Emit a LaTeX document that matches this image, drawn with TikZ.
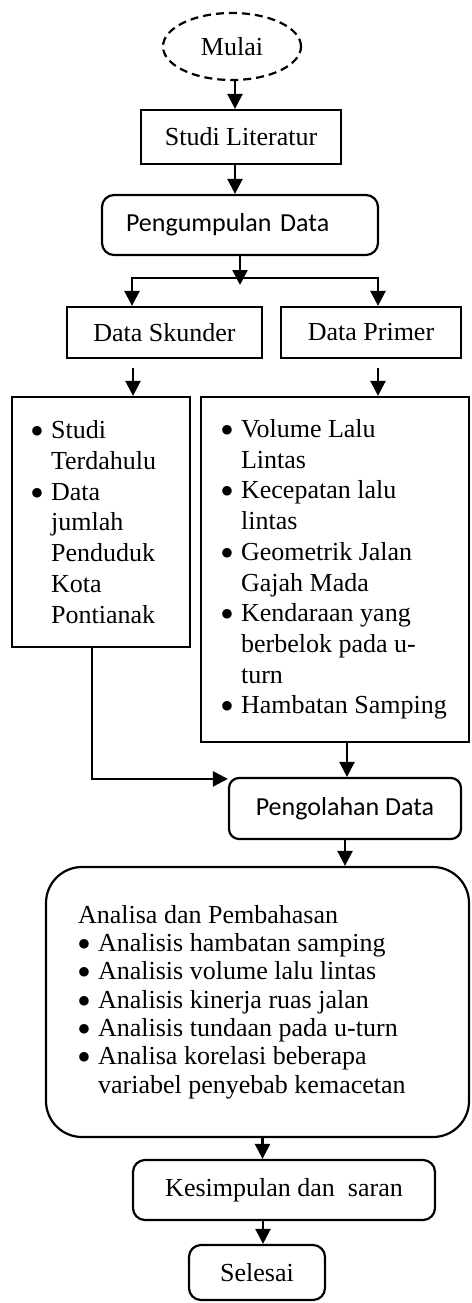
\documentclass[tikz,border=0pt]{standalone}
\usepackage{fontspec}
\setmainfont{Liberation Serif}
\newfontfamily\calibrifont{Carlito}
\newfontfamily\symfont{DejaVu Sans}
\usetikzlibrary{arrows.meta,shapes.geometric,calc}

% list helpers: bulleted line and continuation line
\newcommand\bul[1]{\makebox[20pt][l]{\hspace*{0.5pt}\raisebox{4pt}{\symfont\fontsize{12.5}{12.5}\selectfont ●}}#1}
\newcommand\ind[1]{\hspace*{20pt}#1}

\begin{document}
\begin{tikzpicture}[x=1pt,y=-1pt,
  every node/.style={font=\fontsize{26}{30.7}\selectfont, inner sep=0pt},
  sq/.style={draw, line width=2.2pt, rectangle},
  rnd/.style={draw, line width=2.2pt, rectangle, rounded corners=12pt},
  sans/.style={font=\calibrifont\fontsize{26}{30}\selectfont},
  arr/.style={line width=2.4pt, -{Triangle[length=15pt,width=15pt]}},
  ln/.style={line width=2.4pt},
  listtxt/.style={align=left, anchor=west},
]
\useasboundingbox (0,0) rectangle (471,1303);

% start
\node[draw, ellipse, line width=2.2pt, dash pattern=on 8pt off 5pt,
      minimum width=138pt, minimum height=67pt] (mulai) at (232,46.5) {Mulai};

\node[sq, minimum width=200pt, minimum height=54pt] (studi) at (241,137) {Studi Literatur};

\node[rnd, sans, minimum width=276pt, minimum height=60pt, align=left, text width=228pt]
  (kumpul) at (240,225) {Pengumpulan Data};

\node[sq, minimum width=195pt, minimum height=51pt] (skunder) at (164.5,332.5) {Data Skunder};
\node[sq, minimum width=180pt, minimum height=51pt] (primer) at (371,332.5) {Data Primer};

% secondary data list
\node[sq, minimum width=178pt, minimum height=250pt] (sec) at (101,522) {};
\node[listtxt] (sectxt) at ([xshift=20pt]sec.west)
  {\bul{Studi}\\\ind{Terdahulu}\\\bul{Data}\\\ind{jumlah}\\\ind{Penduduk}\\\ind{Kota}\\\ind{Pontianak}};

% primary data list
\node[sq, minimum width=268pt, minimum height=345pt] (pri) at (335,569.5) {};
\node[listtxt] (pritxt) at ([xshift=21pt]pri.west)
  {\bul{Volume Lalu}\\\ind{Lintas}\\\bul{Kecepatan lalu}\\\ind{lintas}\\
   \bul{Geometrik Jalan}\\\ind{Gajah Mada}\\\bul{Kendaraan yang}\\\ind{berbelok pada u-}\\
   \ind{turn}\\\bul{Hambatan Samping}};

\node[rnd, sans, rounded corners=10pt, minimum width=232pt, minimum height=61pt]
  (olah) at (345,808.5) {Pengolahan Data};

% analysis block
\node[rnd, rounded corners=36pt, minimum width=423pt, minimum height=270pt] (analisa) at (257.5,1002) {};
\node[listtxt, font=\fontsize{26}{28.3}\selectfont] (antxt) at ([xshift=33pt]analisa.west)
  {Analisa dan Pembahasan\\\bul{Analisis hambatan samping}\\\bul{Analisis volume lalu lintas}\\
   \bul{Analisis kinerja ruas jalan}\\\bul{Analisis tundaan pada u-turn}\\
   \bul{Analisa korelasi beberapa}\\\ind{variabel penyebab kemacetan}};

\node[rnd, minimum width=302pt, minimum height=60pt] (simpul) at (284,1190) {Kesimpulan dan\ \ saran};
\node[rnd, minimum width=136pt, minimum height=55pt] (selesai) at (257,1272.5) {Selesai};

% connectors
\draw[arr] ([xshift=3pt]mulai.south) -- ([xshift=3pt]mulai.south |- studi.north);
\coordinate (t1) at ($(studi.south)+(-6,0)$);
\draw[arr] (t1) -- (t1 |- kumpul.north);

\coordinate (tipend) at (240,285);
\draw[arr] (kumpul.south) -- (tipend);
\coordinate (brL) at (132,278);
\coordinate (brR) at (378,278);
\draw[ln, {Triangle[length=15pt,width=15pt]}-{Triangle[length=15pt,width=15pt]}]
  (brL |- skunder.north) -- (brL) -- (brR) -- (brR |- primer.north);

\coordinate (s1) at ($(skunder.south)+(-31.5,9)$);
\draw[arr] (s1) -- (s1 |- sec.north);
\coordinate (p1) at ($(primer.south)+(7,9)$);
\draw[arr] (p1) -- (p1 |- pri.north);

\coordinate (s2) at ($(sec.south)+(-9,0)$);
\coordinate (olahin) at ($(olah.north west)+(0,2)$);
\draw[arr] (s2) |- (olahin);
\coordinate (p2) at ($(olah.north)+(2,0)$);
\draw[arr] (p2 |- pri.south) -- (p2);

\draw[arr] (olah.south) -- (olah.south |- analisa.north);
\coordinate (a1) at ($(analisa.south)+(5,0)$);
\draw[arr] (a1) -- (a1 |- simpul.north);
\coordinate (k1) at ($(selesai.north)+(6,0)$);
\draw[arr] (k1 |- simpul.south) -- (k1);
\end{tikzpicture}
\end{document}
